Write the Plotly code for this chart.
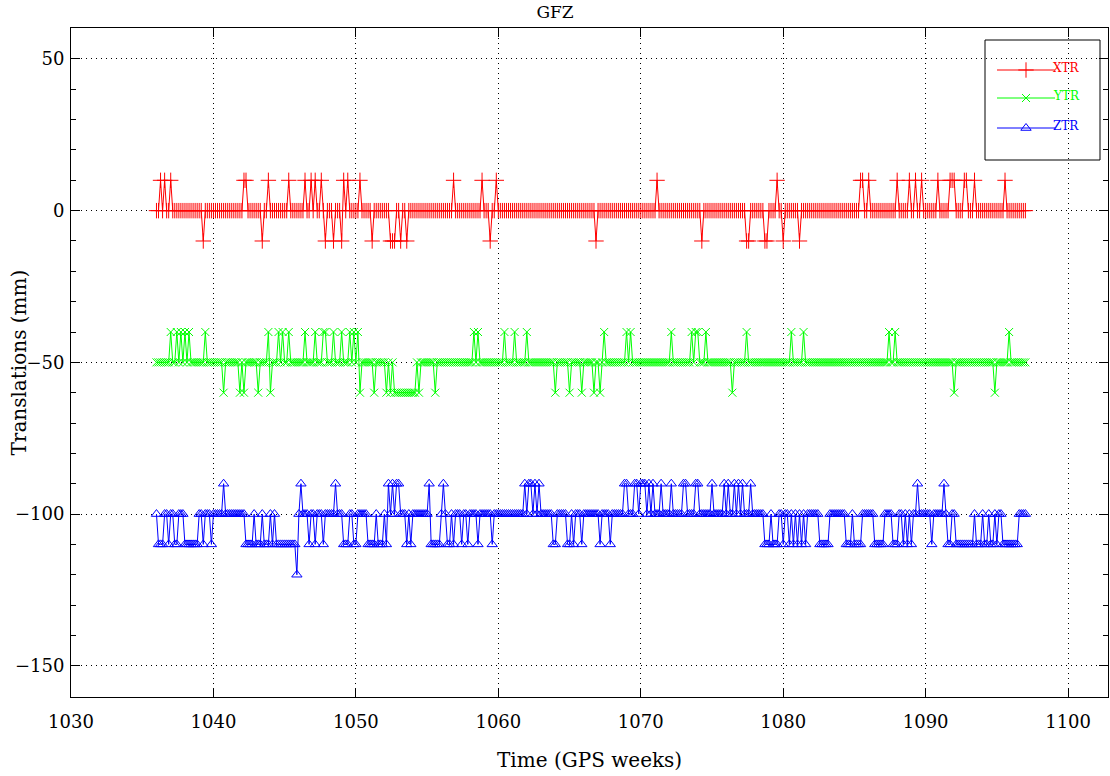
import plotly.graph_objects as go

# ---- data: daily solutions, GPS weeks 1036.0 .. 1097.0 (one row per week, 7 days) ----
WEEK_START = 1036
N_DAYS = 428

XTR = [
    0, 0, 10, 0, 10, 0, 0,
    10, 0, 0, 0, 0, 0, 0,
    0, 0, 0, 0, 0, 0, 0,
    0, 0, -10, 0, 0, 0, 0,
    0, 0, 0, 0, 0, 0, 0,
    0, 0, 0, 0, 0, 0, 0,
    0, 10, 10, 0, 0, 0, 0,
    0, 0, 0, -10, 0, 0, 10,
    0, 0, 0, 0, 0, 0, 0,
    0, 0, 10, 0, 0, 0, 0,
    0, 0, 0, 10, 0, 0, 10,
    0, 10, 0, 0, 10, 0, -10,
    0, 0, 0, -10, 0, 0, 0,
    -10, 10, 0, 10, 0, 0, 0,
    0, 0, 10, 0, 0, 0, 0,
    0, -10, 0, 0, 0, 0, 0,
    0, 0, 0, -10, -10, -10, 0,
    0, -10, 0, 0, -10, 0, 0,
    0, 0, 0, 0, 0, 0, 0,
    0, 0, 0, 0, 0, 0, 0,
    0, 0, 0, 0, 0, 0, 10,
    0, 0, 0, 0, 0, 0, 0,
    0, 0, 0, 0, 0, 0, 10,
    0, 0, 0, -10, 0, 0, 10,
    0, 0, 0, 0, 0, 0, 0,
    0, 0, 0, 0, 0, 0, 0,
    0, 0, 0, 0, 0, 0, 0,
    0, 0, 0, 0, 0, 0, 0,
    0, 0, 0, 0, 0, 0, 0,
    0, 0, 0, 0, 0, 0, 0,
    0, 0, 0, 0, 0, 0, -10,
    0, 0, 0, 0, 0, 0, 0,
    0, 0, 0, 0, 0, 0, 0,
    0, 0, 0, 0, 0, 0, 0,
    0, 0, 0, 0, 0, 0, 0,
    0, 10, 0, 0, 0, 0, 0,
    0, 0, 0, 0, 0, 0, 0,
    0, 0, 0, 0, 0, 0, 0,
    0, 0, -10, 0, 0, 0, 0,
    0, 0, 0, 0, 0, 0, 0,
    0, 0, 0, 0, 0, 0, 0,
    0, 0, 0, -10, -10, 0, 0,
    0, 0, 0, 0, 0, -10, -10,
    0, 0, 0, 0, 10, 0, 0,
    -10, 0, 0, 0, 0, 0, 0,
    0, -10, 0, 0, 0, 0, 0,
    0, 0, 0, 0, 0, 0, 0,
    0, 0, 0, 0, 0, 0, 0,
    0, 0, 0, 0, 0, 0, 0,
    0, 0, 0, 10, 10, 0, 0,
    10, 0, 0, 0, 0, 0, 0,
    0, 0, 0, 0, 0, 0, 0,
    10, 0, 0, 0, 0, 0, 10,
    0, 0, 10, 0, 0, 10, 0,
    0, 0, 0, 0, 0, 0, 10,
    0, 0, 0, 0, 0, 10, 10,
    10, 0, 0, 0, 0, 10, 10,
    0, 0, 0, 10, 0, 0, 0,
    0, 0, 0, 0, 0, 0, 0,
    0, 0, 0, 0, 10, 0, 0,
    0, 0, 0, 0, 0, 0, 0,
    0,
]

YTR = [
    -50, -50, -50, -50, -50, -50, -50,
    -40, -50, -50, -40, -50, -40, -50,
    -40, -50, -40, -50, -50, -50, -50,
    -50, -50, -50, -40, -50, -50, -50,
    -50, -50, -50, -50, -50, -60, -50,
    -50, -50, -50, -50, -50, -50, -60,
    -50, -60, -50, -50, -50, -50, -50,
    -50, -60, -50, -50, -50, -50, -40,
    -60, -50, -50, -50, -40, -50, -40,
    -50, -50, -40, -50, -50, -50, -50,
    -50, -50, -50, -40, -50, -50, -50,
    -50, -40, -50, -50, -50, -40, -40,
    -50, -50, -50, -40, -50, -50, -50,
    -40, -50, -50, -50, -40, -50, -40,
    -50, -40, -60, -50, -50, -50, -50,
    -50, -50, -60, -50, -50, -50, -50,
    -50, -60, -50, -60, -50, -60, -60,
    -60, -60, -60, -60, -60, -60, -60,
    -60, -60, -50, -60, -50, -50, -50,
    -50, -50, -50, -50, -60, -50, -50,
    -50, -50, -50, -50, -50, -50, -50,
    -50, -50, -50, -50, -50, -50, -50,
    -50, -50, -40, -50, -40, -50, -50,
    -50, -50, -50, -50, -50, -50, -50,
    -50, -50, -50, -40, -50, -50, -50,
    -50, -40, -50, -50, -50, -50, -50,
    -40, -50, -50, -50, -50, -50, -50,
    -50, -50, -50, -50, -50, -50, -50,
    -60, -50, -50, -50, -50, -50, -50,
    -60, -50, -50, -50, -50, -50, -60,
    -50, -50, -50, -50, -50, -60, -50,
    -50, -60, -50, -40, -50, -50, -50,
    -50, -50, -50, -50, -50, -50, -50,
    -40, -50, -40, -50, -50, -50, -50,
    -50, -50, -50, -50, -50, -50, -50,
    -50, -50, -50, -50, -50, -50, -50,
    -50, -40, -50, -50, -50, -50, -50,
    -50, -50, -50, -50, -40, -50, -40,
    -40, -50, -50, -50, -40, -50, -50,
    -50, -50, -50, -50, -50, -50, -50,
    -50, -50, -50, -60, -50, -50, -50,
    -50, -50, -50, -40, -50, -50, -50,
    -50, -50, -50, -50, -50, -50, -50,
    -50, -50, -50, -50, -50, -50, -50,
    -50, -50, -50, -50, -40, -50, -50,
    -50, -50, -50, -40, -50, -50, -50,
    -50, -50, -50, -50, -50, -50, -50,
    -50, -50, -50, -50, -50, -50, -50,
    -50, -50, -50, -50, -50, -50, -50,
    -50, -50, -50, -50, -50, -50, -50,
    -50, -50, -50, -50, -50, -50, -50,
    -50, -50, -50, -40, -50, -50, -40,
    -50, -50, -50, -50, -50, -50, -50,
    -50, -50, -50, -50, -50, -50, -50,
    -50, -50, -50, -50, -50, -50, -50,
    -50, -50, -50, -50, -50, -50, -50,
    -60, -50, -50, -50, -50, -50, -50,
    -50, -50, -50, -50, -50, -50, -50,
    -50, -50, -50, -50, -50, -50, -60,
    -50, -50, -50, -50, -50, -50, -40,
    -50, -50, -50, -50, -50, -50, -50,
    -50,
]

ZTR = [
    -100, -110, -110, -110, -100, -100, -110,
    -100, -100, -110, -110, -100, -100, -100,
    -110, -110, -110, -110, -110, -110, -110,
    -100, -100, -110, -100, -100, -100, -110,
    -100, -100, -100, -100, -100, -90, -100,
    -100, -100, -100, -100, -100, -100, -100,
    -100, -100, -110, -110, -110, -110, -100,
    -110, -110, -110, -100, -110, -110, -110,
    -100, -110, -100, -110, -110, -110, -110,
    -110, -110, -110, -110, -110, -110, -120,
    -100, -90, -100, -100, -100, -110, -100,
    -100, -110, -100, -100, -100, -110, -100,
    -100, -100, -100, -100, -90, -100, -100,
    -100, -110, -110, -110, -100, -100, -110,
    -110, -100, -100, -100, -100, -100, -110,
    -110, -110, -110, -100, -110, -110, -110,
    -100, -110, -90, -100, -90, -100, -90,
    -90, -100, -100, -100, -110, -100, -110,
    -100, -100, -100, -100, -100, -100, -100,
    -100, -90, -110, -110, -110, -110, -110,
    -100, -90, -100, -110, -110, -100, -110,
    -100, -100, -100, -110, -100, -100, -110,
    -100, -100, -100, -100, -110, -100, -100,
    -100, -100, -100, -100, -110, -100, -100,
    -100, -100, -100, -100, -100, -100, -100,
    -100, -100, -100, -100, -100, -100, -90,
    -100, -90, -90, -100, -90, -100, -90,
    -100, -100, -100, -100, -100, -100, -110,
    -110, -100, -100, -100, -100, -100, -110,
    -110, -100, -110, -100, -100, -100, -110,
    -100, -100, -100, -100, -100, -100, -100,
    -100, -110, -100, -100, -100, -100, -110,
    -100, -100, -100, -100, -100, -100, -90,
    -90, -100, -100, -100, -90, -90, -100,
    -90, -90, -90, -100, -90, -100, -90,
    -100, -100, -100, -90, -100, -100, -100,
    -100, -90, -100, -100, -100, -100, -100,
    -90, -90, -100, -100, -100, -100, -90,
    -90, -100, -100, -100, -100, -100, -100,
    -90, -100, -100, -100, -100, -100, -90,
    -100, -90, -100, -100, -90, -100, -90,
    -100, -90, -100, -100, -100, -90, -100,
    -100, -100, -100, -100, -100, -110, -110,
    -110, -100, -110, -110, -110, -100, -100,
    -110, -100, -100, -110, -100, -110, -100,
    -110, -100, -110, -100, -110, -100, -100,
    -100, -100, -100, -100, -110, -110, -110,
    -110, -110, -100, -100, -100, -100, -100,
    -100, -100, -100, -110, -110, -110, -100,
    -110, -110, -110, -110, -100, -100, -100,
    -100, -100, -100, -110, -110, -110, -110,
    -110, -100, -100, -100, -100, -110, -110,
    -110, -100, -100, -110, -100, -110, -100,
    -110, -100, -100, -90, -100, -100, -100,
    -100, -100, -100, -110, -100, -100, -100,
    -100, -100, -90, -100, -110, -110, -100,
    -100, -110, -110, -110, -110, -110, -110,
    -110, -110, -110, -100, -110, -110, -110,
    -100, -110, -110, -100, -110, -110, -100,
    -110, -100, -100, -110, -110, -110, -110,
    -110, -110, -110, -110, -100, -100, -100,
    -100,
]

X_TICKS = [1030, 1040, 1050, 1060, 1070, 1080, 1090, 1100]
Y_TICKS = [50, 0, -50, -100, -150]
Y_TICK_TEXT = ["50", "0", "\u221250", "\u2212100", "\u2212150"]
SERIES_NAMES = ["XTR", "YTR", "ZTR"]

# time axis (GPS week + day/7)
weeks = [WEEK_START + i / 7.0 for i in range(N_DAYS)]

W, H = 1110, 776
ML, MR, MT, MB = 71, 2, 28, 79
FONT = "DejaVu Serif"

styles = [
    dict(color="#ff0000", symbol="cross-thin-open", size=11),
    dict(color="#00ff00", symbol="x-thin-open", size=8),
    dict(color="#0000ff", symbol="triangle-up-open", size=9),
]

fig = go.Figure()
for name, vals, st in zip(SERIES_NAMES, [XTR, YTR, ZTR], styles):
    fig.add_trace(go.Scatter(
        x=weeks, y=vals, mode="lines+markers", name=name, showlegend=False,
        line=dict(color=st["color"], width=1),
        marker=dict(symbol=st["symbol"], size=st["size"], color=st["color"],
                    line=dict(color=st["color"], width=1)),
    ))

# ---- legend drawn in a pixel-space overlay axis ----
leg_rows = [70, 98, 128]
for name, st, py in zip(SERIES_NAMES, styles, leg_rows):
    fig.add_trace(go.Scatter(
        x=[997, 1055], y=[py, py], mode="lines", xaxis="x2", yaxis="y2",
        line=dict(color=st["color"], width=1), showlegend=False, hoverinfo="skip"))
    fig.add_trace(go.Scatter(
        x=[1026], y=[py], mode="markers", xaxis="x2", yaxis="y2",
        marker=dict(symbol=st["symbol"], size=st["size"], color=st["color"],
                    line=dict(color=st["color"], width=1)),
        showlegend=False, hoverinfo="skip"))
    fig.add_annotation(x=1051, y=py - 2, xref="x2", yref="y2", text=name,
                       showarrow=False, xanchor="left", yanchor="middle",
                       font=dict(family=FONT, size=12, color=st["color"]))
fig.add_shape(type="rect", xref="x2", yref="y2", x0=985, x1=1100, y0=40, y1=160,
              line=dict(color="black", width=1), fillcolor="rgba(0,0,0,0)")

# axis titles placed in paper coordinates
PW, PH = W - ML - MR, H - MT - MB
fig.add_annotation(x=0.5, y=(H - MB - 760) / PH, xref="paper", yref="paper",
                   text="Time (GPS weeks)", showarrow=False, xanchor="center", yanchor="middle",
                   font=dict(family=FONT, size=20, color="black"))
fig.add_annotation(x=(18 - ML) / PW, y=0.5, xref="paper", yref="paper",
                   text="Translations (mm)", showarrow=False, textangle=-90,
                   xanchor="center", yanchor="middle",
                   font=dict(family=FONT, size=20, color="black"))

axis_common = dict(showline=True, linecolor="black", linewidth=1, mirror="allticks",
                   ticks="inside", ticklen=9, tickcolor="black",
                   showgrid=True, gridcolor="black", gridwidth=1, griddash="1px,4px",
                   zeroline=False, automargin=False,
                   tickfont=dict(family=FONT, size=18, color="black"))

fig.update_layout(
    width=W, height=H,
    margin=dict(l=ML, r=MR, t=MT, b=MB, pad=0, autoexpand=False),
    paper_bgcolor="white", plot_bgcolor="white",
    title=dict(text="GFZ", x=0.5, xanchor="center", y=1 - 12 / H, yanchor="middle",
               font=dict(family=FONT, size=17, color="black")),
    xaxis=dict(range=[1030, 1102.8], tickvals=X_TICKS, ticktext=[str(t) for t in X_TICKS],
               ticklabelstandoff=8, **axis_common),
    yaxis=dict(range=[-160.3, 60.2], tickvals=Y_TICKS, ticktext=Y_TICK_TEXT,
               ticklabelstandoff=2,
               minor=dict(dtick=10, ticklen=5, ticks="inside", tickcolor="black", showgrid=False),
               **axis_common),
    xaxis2=dict(range=[ML, W - MR], overlaying="x", visible=False, fixedrange=True),
    yaxis2=dict(range=[H - MB, MT], overlaying="y", visible=False, fixedrange=True),
    showlegend=False,
)

fig.write_html("out.html",
               config={"displayModeBar": False},
               post_script="document.body.style.margin='0';document.body.style.overflow='hidden';")
